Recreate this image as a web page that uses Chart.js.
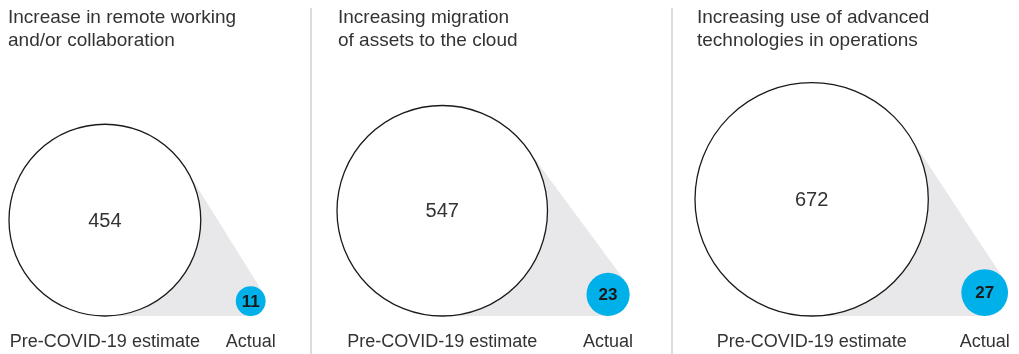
<!DOCTYPE html>
<html>
<head>
<meta charset="utf-8">
<script src="https://cdn.jsdelivr.net/npm/chart.js@4/dist/chart.umd.min.js"></script>
<style>
  html, body { margin: 0; padding: 0; background: #fff; }
  #wrap { position: relative; width: 1019px; height: 354px; }
</style>
</head>
<body>
<div id="wrap"><canvas id="bubbles"></canvas></div>
<script>
// Data
const titles = [
    ['Increase in remote working', 'and/or collaboration'],
    ['Increasing migration', 'of assets to the cloud'],
    ['Increasing use of advanced', 'technologies in operations']
];
const preCovid = [454, 547, 672];
const actual = [11, 23, 27];
const categoryLabels = ['Pre-COVID-19 estimate', 'Actual'];

// Layout
const W = 1019, H = 354;
const K = 4.5;                     // px of radius per sqrt(value)
const baseY = 316;                 // every circle sits on this line
const panelLeft = [0, 311, 672];
const contentPad = [9, 26, 23];
const gaps = [35, 39, 33];
const titleX = [8, 338, 697];

const rOf = v => K * Math.sqrt(v);

const bigPoints = preCovid.map((v, i) => {
    const r = rOf(v);
    return { x: panelLeft[i] + contentPad[i] + r, y: baseY - r, r: r, v: v };
});
const smallPoints = actual.map((v, i) => {
    const r = rOf(v);
    const big = bigPoints[i];
    return { x: big.x + big.r + gaps[i] + r, y: baseY - r, r: r, v: v };
});

const FONT = '"Liberation Sans", Arial, Helvetica, sans-serif';
const TEXT = '#333333';

// Grey hull joining each pair of circles, drawn under the bubbles
const hullPlugin = {
    id: 'hull',
    beforeDatasetsDraw(chart) {
        const ctx = chart.ctx;
        const bigMeta = chart.getDatasetMeta(0).data;
        const smallMeta = chart.getDatasetMeta(1).data;
        ctx.save();
        ctx.fillStyle = '#e8e8ea';
        bigMeta.forEach((b, i) => {
            const s = smallMeta[i];
            const r1 = b.options.radius, r2 = s.options.radius;
            const dx = s.x - b.x, dy = s.y - b.y;
            const D = Math.hypot(dx, dy);
            const ux = dx / D, uy = dy / D;
            const vx = -uy, vy = ux;
            const a = (r2 - r1) / D;
            const h = Math.sqrt(1 - a * a);
            const pts = [];
            [h, -h].forEach(bb => {
                const nx = a * ux + bb * vx, ny = a * uy + bb * vy;
                pts.push([b.x - r1 * nx, b.y - r1 * ny, s.x - r2 * nx, s.y - r2 * ny]);
            });
            ctx.beginPath();
            ctx.moveTo(pts[0][0], pts[0][1]);
            ctx.lineTo(pts[0][2], pts[0][3]);
            ctx.lineTo(pts[1][2], pts[1][3]);
            ctx.lineTo(pts[1][0], pts[1][1]);
            ctx.closePath();
            ctx.fill();
        });
        ctx.restore();
    }
};

// Titles, dividers, values and captions
const textPlugin = {
    id: 'texts',
    beforeDraw(chart) {
        const ctx = chart.ctx;
        ctx.save();
        ctx.strokeStyle = '#cfcfcf';
        ctx.lineWidth = 1.5;
        [311, 672].forEach(x => {
            ctx.beginPath();
            ctx.moveTo(x, 8);
            ctx.lineTo(x, H);
            ctx.stroke();
        });
        ctx.restore();
    },
    afterDatasetsDraw(chart) {
        const ctx = chart.ctx;
        const bigMeta = chart.getDatasetMeta(0).data;
        const smallMeta = chart.getDatasetMeta(1).data;
        ctx.save();
        ctx.fillStyle = TEXT;
        ctx.textBaseline = 'alphabetic';

        ctx.font = '19px ' + FONT;
        ctx.textAlign = 'left';
        titles.forEach((lines, i) => {
            lines.forEach((t, j) => ctx.fillText(t, titleX[i], 23 + j * 23));
        });

        ctx.textAlign = 'center';
        ctx.textBaseline = 'middle';
        ctx.font = '20px ' + FONT;
        bigMeta.forEach((el, i) => ctx.fillText(String(preCovid[i]), el.x, el.y + 1));

        ctx.fillStyle = '#1a1a1a';
        ctx.font = 'bold 17px ' + FONT;
        smallMeta.forEach((el, i) => ctx.fillText(String(actual[i]), el.x, el.y + 1));

        ctx.fillStyle = TEXT;
        ctx.textBaseline = 'alphabetic';
        ctx.font = '18px ' + FONT;
        bigMeta.forEach(el => ctx.fillText(categoryLabels[0], el.x, 347));
        smallMeta.forEach(el => ctx.fillText(categoryLabels[1], el.x, 347));
        ctx.restore();
    }
};

new Chart(document.getElementById('bubbles'), {
    type: 'bubble',
    data: {
        datasets: [
            {
                label: categoryLabels[0],
                data: bigPoints,
                backgroundColor: '#ffffff',
                borderColor: '#1a1a1a',
                borderWidth: 1.3,
                clip: false
            },
            {
                label: categoryLabels[1],
                data: smallPoints,
                backgroundColor: '#00b0e8',
                borderColor: '#00b0e8',
                borderWidth: 0,
                clip: false
            }
        ]
    },
    options: {
        responsive: true,
        maintainAspectRatio: false,
        animation: false,
        events: [],
        layout: { padding: 0, autoPadding: false },
        plugins: {
            legend: { display: false },
            tooltip: { enabled: false }
        },
        scales: {
            x: { type: 'linear', min: 0, max: W, display: false },
            y: { type: 'linear', min: 0, max: H, reverse: true, display: false }
        }
    },
    plugins: [hullPlugin, textPlugin]
});
</script>
</body>
</html>
